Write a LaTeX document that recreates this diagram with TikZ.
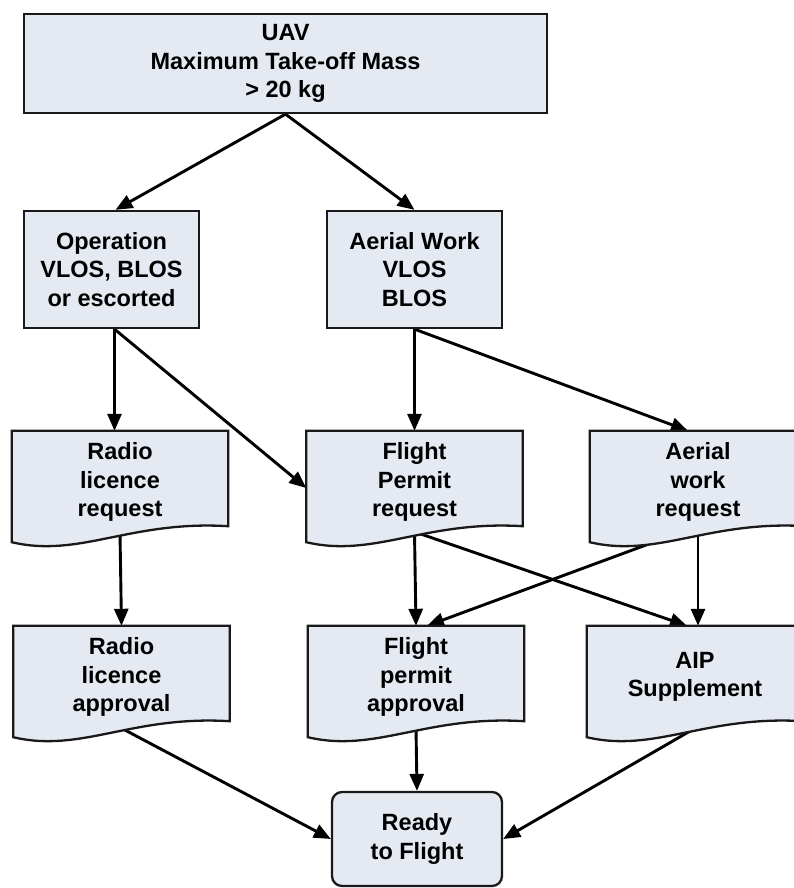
\documentclass[tikz,border=0pt]{standalone}
\usepackage{fontspec}
\setmainfont{Liberation Sans}
\usetikzlibrary{arrows.meta,calc}
\definecolor{boxfill}{RGB}{228,233,242}
\definecolor{edgecol}{RGB}{25,25,25}
\pgfdeclarelayer{arrowlayer}
\pgfdeclarelayer{shapelayer}
\pgfsetlayers{arrowlayer,shapelayer,main}
\newcommand{\labfont}{\fontsize{23.5pt}{28.5pt}\selectfont\bfseries}
\newcommand{\docshape}[1]{%
  \begin{pgfonlayer}{shapelayer}
  \filldraw[docline] (#1.north west) -- (#1.north east) -- ([yshift=7pt]#1.south east)
    .. controls ([xshift=-98pt,yshift=13pt]#1.south east) and ([xshift=68pt,yshift=-25pt]#1.south west)
    .. ([yshift=-9pt]#1.south west) -- cycle;
  \end{pgfonlayer}}
\begin{document}
\begin{tikzpicture}[x=1pt,y=-1pt,
  box/.style={draw=edgecol, line width=2.3pt, fill=boxfill, align=center, inner sep=0pt, font=\labfont},
  docnode/.style={align=center, inner sep=0pt, minimum width=216pt, minimum height=102pt, font=\labfont},
  docline/.style={draw=edgecol, line width=2.3pt, fill=boxfill, line join=miter},
  arr/.style={line width=2.9pt, draw=black, -{Triangle[length=17pt,width=14pt]}}]
\useasboundingbox (0,0) rectangle (793,888);

% top
\node[box, minimum width=523pt, minimum height=99pt] (top) at (285.5,63.5) {UAV\\Maximum Take-off Mass\\> 20 kg};
% row 2
\node[box, minimum width=175pt, minimum height=117pt] (op) at (111.5,269.5) {Operation\\VLOS, BLOS\\or escorted};
\node[box, minimum width=175pt, minimum height=117pt] (aw) at (414.5,269.5) {Aerial Work\\VLOS\\BLOS};
% row 3
\node[docnode] (rreq) at (120,482) {Radio\\licence\\request};
\node[docnode] (fpreq) at (414.5,482) {Flight\\Permit\\request};
\node[docnode] (awreq) at (698,482) {Aerial\\work\\request};
% row 4
\node[docnode] (rapp) at (121.5,677) {Radio\\licence\\approval};
\node[docnode] (fpapp) at (416,677) {Flight\\permit\\approval};
\node[docnode] (aip) at (695,677) {AIP\\Supplement};
% final
\node[box, rounded corners=10pt, minimum width=170pt, minimum height=94pt] (ready) at (417,839) {Ready\\to Flight};

\docshape{rreq}
\docshape{fpreq}
\docshape{awreq}
\docshape{rapp}
\docshape{fpapp}
\docshape{aip}

\begin{pgfonlayer}{arrowlayer}
\draw[arr] (top.south) -- ([xshift=4pt]op.north);
\draw[arr] (top.south) -- (aw.north);
\draw[arr] ([xshift=3pt]op.south) coordinate (o1) -- (o1 |- rreq.north);
\draw[arr] ([xshift=3pt]op.south) -- ([yshift=-6pt]fpreq.west);
\draw[arr] (aw.south) -- (fpreq.north);
\draw[arr] (aw.south) -- ([xshift=-10pt]awreq.north);
\draw[arr] (rreq.south) -- (rapp.north);
\draw[arr] (fpreq.south) -- (fpapp.north);
\draw[arr] ([xshift=4pt]fpreq.south) -- ([xshift=-8pt]aip.north);
\draw[arr] ([xshift=-20pt]awreq.south) -- ([xshift=11pt]fpapp.north);
\draw[arr] (awreq.south) -- (awreq.south |- aip.north);
\draw[arr] (rapp.south) -- (ready.west);
\draw[arr] (fpapp.south) -- (ready.north);
\draw[arr] (aip.south) -- (ready.east);
\end{pgfonlayer}
\end{tikzpicture}
\end{document}
